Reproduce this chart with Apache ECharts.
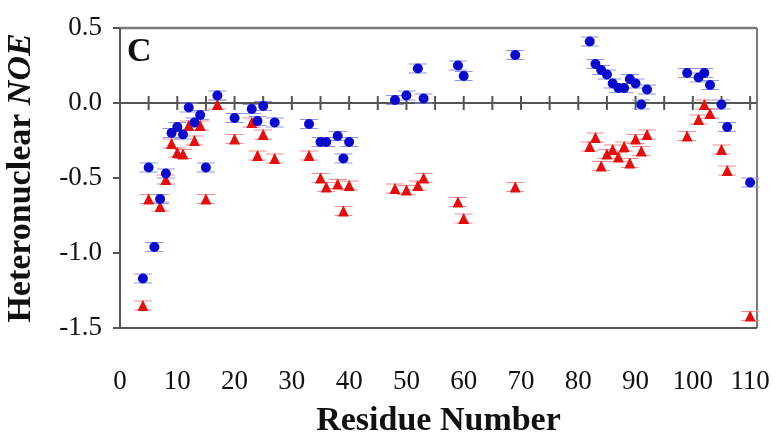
<!DOCTYPE html>
<html>
<head>
<meta charset="utf-8">
<script src="https://cdn.jsdelivr.net/npm/echarts@6/dist/echarts.min.js"></script>
<style>
  html, body { margin: 0; padding: 0; background: #ffffff; }
  #chart { width: 775px; height: 440px; }
</style>
</head>
<body>
<div id="chart"></div>
<script>
// Heteronuclear NOE per residue, two data sets
const blueResidues = [4, 5, 6, 7, 8, 9, 10, 11, 12, 13, 14, 15, 17, 20, 23, 24, 25, 27,
  33, 35, 36, 38, 39, 40, 48, 50, 52, 53, 59, 60, 69,
  82, 83, 84, 85, 86, 87, 88, 89, 90, 91, 92, 99, 101, 102, 103, 105, 106, 110];
const blueNOE = [-1.17, -0.43, -0.96, -0.64, -0.47, -0.20, -0.16, -0.21, -0.03, -0.13, -0.08, -0.43, 0.05, -0.10, -0.04, -0.12, -0.02, -0.13,
  -0.14, -0.26, -0.26, -0.22, -0.37, -0.26, 0.02, 0.05, 0.23, 0.03, 0.25, 0.18, 0.32,
  0.41, 0.26, 0.22, 0.19, 0.13, 0.10, 0.10, 0.16, 0.13, -0.01, 0.09, 0.20, 0.17, 0.20, 0.12, -0.01, -0.16, -0.53];

const redResidues = [4, 5, 7, 8, 9, 10, 11, 12, 13, 14, 15, 17, 20, 23, 24, 25, 27,
  33, 35, 36, 38, 39, 40, 48, 50, 52, 53, 59, 60, 69,
  82, 83, 84, 85, 86, 87, 88, 89, 90, 91, 92, 99, 101, 102, 103, 105, 106, 110];
const redNOE = [-1.35, -0.64, -0.69, -0.51, -0.27, -0.33, -0.34, -0.15, -0.25, -0.15, -0.64, -0.01, -0.24, -0.13, -0.35, -0.21, -0.37,
  -0.35, -0.50, -0.56, -0.54, -0.72, -0.55, -0.57, -0.58, -0.55, -0.50, -0.66, -0.77, -0.56,
  -0.29, -0.23, -0.42, -0.34, -0.31, -0.36, -0.29, -0.40, -0.24, -0.32, -0.21, -0.22, -0.11, -0.01, -0.07, -0.31, -0.45, -1.42];

// uncertainty of each NOE value
const noeError = 0.03;

// tick positions along the zero line and the NOE axis
const zeroLineTicks = [0, 5, 10, 15, 20, 25, 30, 35, 40, 45, 50, 55, 60, 65, 70, 75, 80, 85, 90, 95, 100, 105, 110];
const noeTicks = [-1.5, -1.0, -0.5, 0.0, 0.5];

const xTitle = 'Residue Number';
const yTitleMain = 'Heteronuclear ';
const yTitleItalic = 'NOE';
const panelLetter = 'C';

const SERIF = "'Liberation Serif', 'Times New Roman', serif";
const AXIS_GREY = '#555555';
const FRAME_GREY = '#7a7a7a';

const X_MIN = 0, X_MAX = 111.2;
const Y_MIN = -1.5, Y_MAX = 0.5;
const CAP = 18;

// I-shaped error bar: top cap, stem, bottom cap
const ERROR_SYMBOL = 'path://M0,0H2M1,0V2M0,2H2';

function pairs(xs, ys) {
  return xs.map((x, i) => [x, ys[i]]);
}

// straight frame segment drawn as a two-point line series
function frameLine(name, a, b, color, width) {
  return {
    type: 'line', name, data: [a, b], silent: true, clip: false, z: 1,
    showSymbol: false, symbol: 'none', animation: false,
    lineStyle: { color, width, type: 'solid' }
  };
}

function errorSeries(name, xs, ys, color, barHeight) {
  return {
    type: 'scatter', name, silent: true, z: 2,
    symbol: ERROR_SYMBOL, symbolSize: [CAP, barHeight],
    itemStyle: { color: 'none', borderColor: color, borderWidth: 1.5, opacity: 1 },
    data: pairs(xs, ys)
  };
}

const chart = echarts.init(document.getElementById('chart'));

function buildOption(barHeight) {
  return {
    animation: false,
    title: {
      text: panelLetter,
      left: 122,
      top: 30,
      textStyle: { fontFamily: SERIF, fontWeight: 'bold', fontSize: 34, color: '#111' }
    },
    grid: { left: 120, top: 28, right: 18, bottom: 112, outerBoundsMode: 'none' },
    xAxis: {
      type: 'value', min: X_MIN, max: X_MAX, interval: 10, position: 'bottom',
      axisLine: { show: false, onZero: false },
      axisTick: { show: false },
      splitLine: { show: false },
      axisLabel: {
        margin: 40, showMaxLabel: false,
        fontFamily: SERIF, fontSize: 27, color: '#111'
      },
      name: xTitle, nameLocation: 'middle', nameGap: 76,
      nameTextStyle: { fontFamily: SERIF, fontWeight: 'bold', fontSize: 34, color: '#111' }
    },
    yAxis: {
      type: 'value', min: Y_MIN, max: Y_MAX, interval: 0.5, position: 'left',
      axisLine: { show: false, onZero: false },
      axisTick: { show: false },
      splitLine: { show: false },
      axisLabel: {
        margin: 18, fontFamily: SERIF, fontSize: 27, color: '#111',
        formatter: v => v.toFixed(1)
      },
      name: '{a|' + yTitleMain + '}{b|' + yTitleItalic + '}',
      nameLocation: 'middle', nameGap: 82, nameRotate: 90,
      nameTextStyle: {
        fontFamily: SERIF, fontSize: 34, color: '#111',
        rich: {
          a: { fontFamily: SERIF, fontWeight: 'bold', fontSize: 34, color: '#111' },
          b: { fontFamily: SERIF, fontWeight: 'bold', fontStyle: 'italic', fontSize: 34, color: '#111' }
        }
      }
    },
    series: [
      // box around the plot and the zero line
      frameLine('top', [X_MIN, Y_MAX], [X_MAX, Y_MAX], FRAME_GREY, 2.5),
      frameLine('right', [X_MAX, Y_MAX], [X_MAX, Y_MIN], FRAME_GREY, 2),
      frameLine('left', [X_MIN, Y_MAX], [X_MIN, Y_MIN], AXIS_GREY, 2),
      frameLine('bottom', [X_MIN, Y_MIN], [X_MAX, Y_MIN], AXIS_GREY, 2),
      frameLine('zero', [X_MIN, 0], [X_MAX, 0], AXIS_GREY, 2),
      {
        // ticks crossing the zero line
        type: 'scatter', name: 'zero ticks', silent: true, clip: false, z: 1,
        symbol: 'rect', symbolSize: [2, 14],
        itemStyle: { color: AXIS_GREY, opacity: 1 },
        data: zeroLineTicks.map(t => [t, 0])
      },
      {
        // outward ticks on the NOE axis
        type: 'scatter', name: 'noe ticks', silent: true, clip: false, z: 1,
        symbol: 'rect', symbolSize: [7, 2], symbolOffset: [-3.5, 0],
        itemStyle: { color: AXIS_GREY, opacity: 1 },
        data: noeTicks.map(v => [X_MIN, v])
      },
      errorSeries('red error', redResidues, redNOE, '#f08c8c', barHeight),
      {
        type: 'scatter', name: 'red', symbol: 'triangle', symbolSize: 11, z: 3,
        itemStyle: { color: '#e01010', opacity: 1 },
        data: pairs(redResidues, redNOE)
      },
      errorSeries('blue error', blueResidues, blueNOE, '#8c96e6', barHeight),
      {
        type: 'scatter', name: 'blue', symbol: 'circle', symbolSize: 10, z: 4,
        itemStyle: { color: '#0a0ac8', opacity: 1 },
        data: pairs(blueResidues, blueNOE)
      }
    ]
  };
}

chart.setOption(buildOption(9));

// error bar height in pixels follows the NOE scale
const px = (x, y) => chart.convertToPixel({ gridIndex: 0 }, [x, y]);
const barHeight = px(0, -noeError)[1] - px(0, noeError)[1];
chart.setOption(buildOption(barHeight));
</script>
</body>
</html>
